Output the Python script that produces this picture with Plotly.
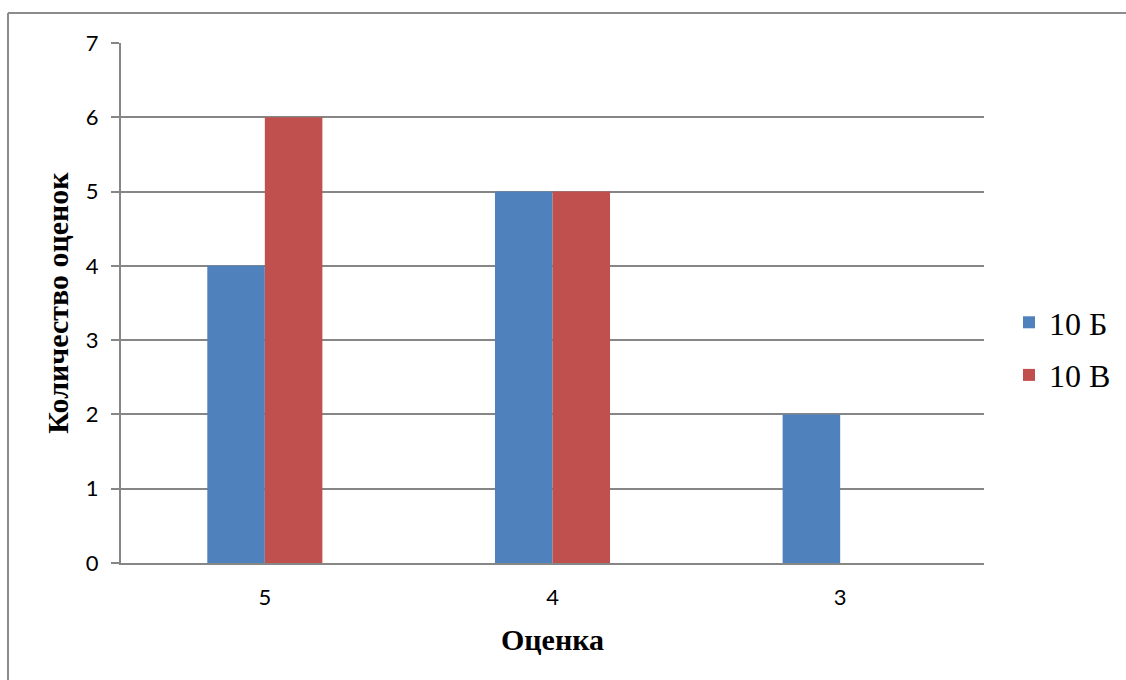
import plotly.graph_objects as go

categories = ["5", "4", "3"]
series_names = ["10 Б", "10 В"]
values_b = [4, 5, 2]
values_v = [6, 5, 0]
colors = ["#4F81BD", "#C0504D"]

W, H = 1126, 680
L, R, T, B = 121, 142, 43, 117

fig = go.Figure()
for i, (name, vals) in enumerate(zip(series_names, [values_b, values_v])):
    fig.add_trace(go.Bar(
        x=categories, y=vals, name=name,
        marker=dict(color=colors[i], line=dict(width=0)),
        legendgroup=name,
    ))

pw, ph = W - L - R, H - T - B
def px_x(p):
    return (p - L) / pw
def px_y(p):
    return (H - B - p) / ph

fig.update_layout(
    width=W, height=H,
    margin=dict(l=L, r=R, t=T, b=B, autoexpand=False),
    paper_bgcolor="white", plot_bgcolor="white",
    barmode="group", bargap=0.6, bargroupgap=0,
    font=dict(family="Lato, Open Sans, sans-serif", size=22, color="black"),
    xaxis=dict(
        title=dict(text="<b>Оценка</b>", font=dict(family="Liberation Serif", size=30), standoff=20),
        showline=True, linecolor="#868686", linewidth=2,
        ticks="", tickfont=dict(size=22), ticklabelstandoff=14,
    ),
    yaxis=dict(
        title=dict(text="<b>Количество оценок</b>", font=dict(family="Liberation Serif", size=30), standoff=8),
        range=[0, 7], dtick=1,
        showline=True, linecolor="#868686", linewidth=2,
        showgrid=True, gridcolor="#868686", gridwidth=2,
        ticks="outside", ticklen=8, tickcolor="#868686", tickwidth=2,
        tickfont=dict(size=22), zeroline=False, ticklabelstandoff=8,
    ),
    legend=dict(
        x=px_x(1009), y=px_y(295), xanchor="left", yanchor="top",
        font=dict(family="Liberation Serif", size=32),
        tracegroupgap=8, itemwidth=30, bgcolor="rgba(0,0,0,0)",
    ),
    showlegend=True,
    shapes=[
        dict(type="line", xref="paper", yref="paper",
             x0=px_x(8), x1=px_x(1140), y0=px_y(13), y1=px_y(13),
             line=dict(color="#8c8c8c", width=2)),
        dict(type="line", xref="paper", yref="paper",
             x0=px_x(8), x1=px_x(8), y0=px_y(13), y1=px_y(700),
             line=dict(color="#8c8c8c", width=2)),
    ],
)

fig.write_html("out.html", config={"displayModeBar": False},
               post_script="document.body.style.margin='0';document.body.style.overflow='hidden';")
